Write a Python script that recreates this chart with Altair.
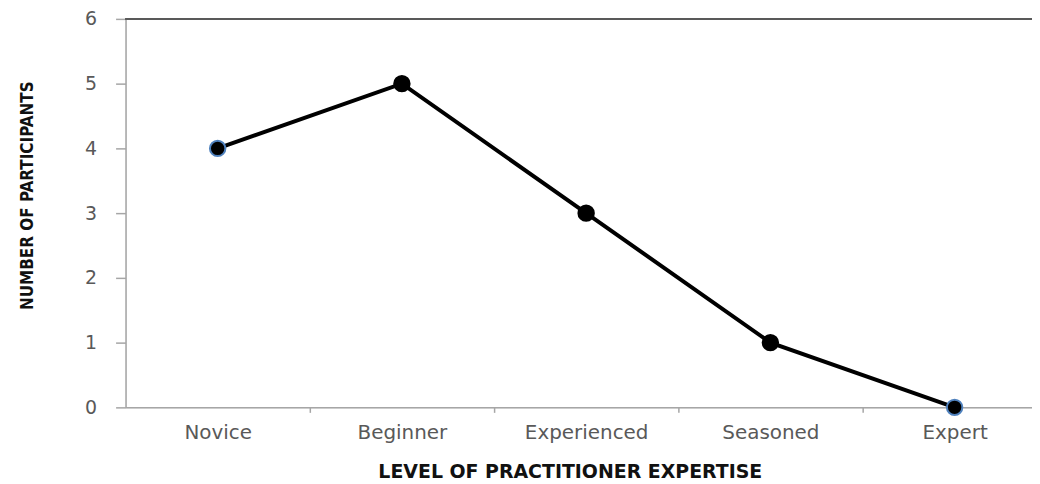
import altair as alt
import pandas as pd

# ---- data ----
levels = ["Novice", "Beginner", "Experienced", "Seasoned", "Expert"]
participants = [4, 5, 3, 1, 0]
y_ticks = [0, 1, 2, 3, 4, 5, 6]
outlined = ["Novice", "Expert"]

df = pd.DataFrame({
    "level": levels,
    "idx": list(range(len(levels))),
    "participants": participants,
})

boundaries = [i + 0.5 for i in range(len(levels) - 1)]
x_values = sorted(list(range(len(levels))) + boundaries)
label_expr = "datum.value % 1 == 0 ? " + str(levels) + "[datum.value] : ''"

LABEL_FONT = "DejaVu Sans"
TITLE_FONT = "DejaVu Sans"
NARROW = "DejaVu Sans Condensed, DejaVu Sans, sans-serif"
AXIS_GREY = "#a6a6a6"
TEXT_GREY = "#595959"

x_enc = alt.X(
    "idx:Q",
    scale=alt.Scale(domain=[-0.5, 4.42], nice=False, zero=False),
    axis=alt.Axis(
        values=x_values,
        labelExpr=label_expr,
        tickSize=5,
        tickColor={"condition": {"test": "datum.value % 1 == 0", "value": "transparent"},
                   "value": AXIS_GREY},
        tickWidth=1.5,
        domainColor=AXIS_GREY,
        domainWidth=1.5,
        grid=False,
        labelFont=LABEL_FONT,
        labelFontSize=20,
        labelColor=TEXT_GREY,
        labelBaseline="alphabetic",
        labelPadding=26,
        labelOverlap=False,
        labelFlush=False,
        title="LEVEL OF PRACTITIONER EXPERTISE",
        titleFont=TITLE_FONT,
        titleFontSize=19,
        titleFontWeight="bold",
        titleColor="#111111",
        titleX=446,
        titleY=70,
        titleAlign="center",
        titleBaseline="alphabetic",
    ),
)

y_enc = alt.Y(
    "participants:Q",
    scale=alt.Scale(domain=[min(y_ticks), max(y_ticks)], nice=False),
    axis=alt.Axis(
        values=y_ticks,
        format="d",
        tickSize=10,
        tickColor=AXIS_GREY,
        tickWidth=1.5,
        domainColor=AXIS_GREY,
        domainWidth=1.5,
        grid=False,
        labelFont=LABEL_FONT,
        labelFontSize=19,
        labelColor=TEXT_GREY,
        labelPadding=19,
        title="NUMBER OF PARTICIPANTS",
        titleFont=NARROW,
        titleFontSize=17,
        titleFontWeight="bold",
        titleColor="#111111",
        titleAngle=270,
        titleX=-93,
        titleY=177,
        titleAlign="center",
        titleBaseline="alphabetic",
    ),
)

base = alt.Chart(df)

top_rule = base.mark_rule(color=TEXT_GREY, strokeWidth=2).encode(
    y=alt.datum(max(y_ticks))
)

line = base.mark_line(color="black", strokeWidth=4).encode(x=x_enc, y=y_enc)

points = base.mark_point(filled=True, fill="black", size=240, strokeWidth=2, opacity=1).encode(
    x="idx:Q",
    y="participants:Q",
    stroke=alt.condition(
        alt.FieldOneOfPredicate(field="level", oneOf=outlined),
        alt.value("#4f81bd"),
        alt.value("black"),
    ),
)

chart = (
    alt.layer(top_rule, line, points)
    .properties(
        width=910,
        height=390,
        autosize=alt.AutoSizeParams(type="none"),
        padding={"left": 118, "top": 10, "right": 0, "bottom": 76},
    )
    .configure_view(stroke=None)
    .configure(background="white")
)

chart.save("out.html", embed_options={"renderer": "svg", "actions": False})
